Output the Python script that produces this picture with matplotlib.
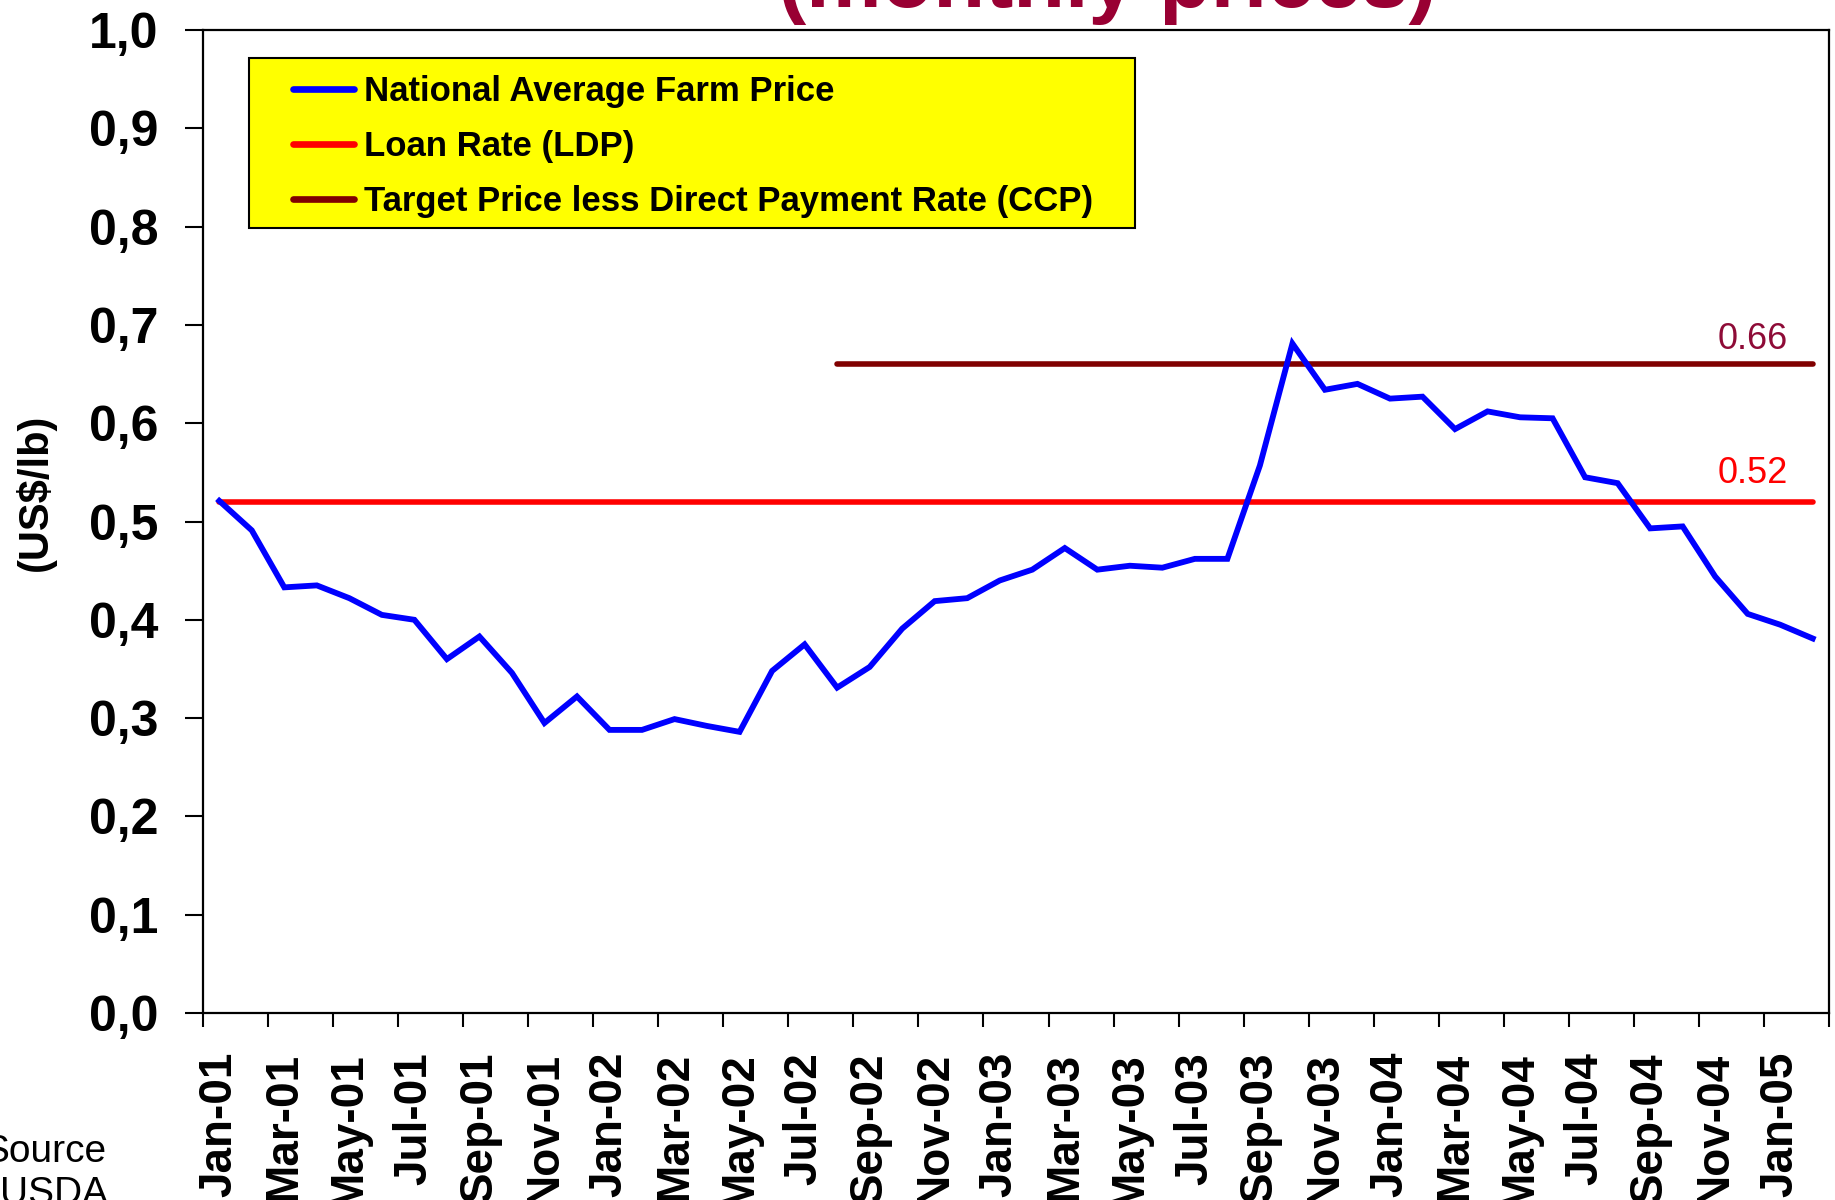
import matplotlib
matplotlib.use("Agg")
import matplotlib.pyplot as plt
from matplotlib.patches import Rectangle
from matplotlib.ticker import FixedLocator, FuncFormatter

plt.rcParams['font.family'] = ['Liberation Sans', 'DejaVu Sans']

months = ["Jan-01", "Feb-01", "Mar-01", "Apr-01", "May-01", "Jun-01", "Jul-01", "Aug-01", "Sep-01", "Oct-01",
          "Nov-01", "Dec-01", "Jan-02", "Feb-02", "Mar-02", "Apr-02", "May-02", "Jun-02", "Jul-02", "Aug-02",
          "Sep-02", "Oct-02", "Nov-02", "Dec-02", "Jan-03", "Feb-03", "Mar-03", "Apr-03", "May-03", "Jun-03",
          "Jul-03", "Aug-03", "Sep-03", "Oct-03", "Nov-03", "Dec-03", "Jan-04", "Feb-04", "Mar-04", "Apr-04",
          "May-04", "Jun-04", "Jul-04", "Aug-04", "Sep-04", "Oct-04", "Nov-04", "Dec-04", "Jan-05", "Feb-05"]

farm_price = [0.521, 0.491, 0.433, 0.435, 0.422, 0.405, 0.400, 0.360, 0.383, 0.346,
              0.295, 0.322, 0.288, 0.288, 0.299, 0.292, 0.286, 0.348, 0.375, 0.331,
              0.352, 0.391, 0.419, 0.422, 0.440, 0.451, 0.473, 0.451, 0.455, 0.453,
              0.462, 0.462, 0.557, 0.681, 0.634, 0.640, 0.625, 0.627, 0.594, 0.612,
              0.606, 0.605, 0.545, 0.539, 0.493, 0.495, 0.444, 0.406, 0.395, 0.381]

loan_rate = 0.52
ccp_rate = 0.66
ccp_start = "Aug-02"

legend_labels = ["National Average Farm Price", "Loan Rate (LDP)",
                 "Target Price less Direct Payment Rate (CCP)"]

W, H = 1835, 1200
fig = plt.figure(figsize=(W / 100, H / 100), dpi=100)
ax = fig.add_axes([203 / W, 1 - 1013 / H, (1829 - 203) / W, (1013 - 30) / H])

x = list(range(len(months)))
l1, = ax.plot(x, farm_price, color='#0000FF', lw=4.2, solid_joinstyle='miter', zorder=4)
l2, = ax.plot([x[0], x[-1]], [loan_rate, loan_rate], color='#FF0000', lw=4.0,
              solid_capstyle='round', zorder=3)
i0 = months.index(ccp_start)
l3, = ax.plot([x[i0], x[-1]], [ccp_rate, ccp_rate], color='#800000', lw=4.0,
              solid_capstyle='round', zorder=3)

ax.set_xlim(-0.5, len(months) - 0.5)
ax.set_ylim(0, 1.0)

# y axis
ax.set_yticks([i / 10 for i in range(11)])
ax.yaxis.set_major_formatter(FuncFormatter(lambda v, p: f"{v:.1f}".replace('.', ',')))
ax.tick_params(axis='y', direction='out', length=13, width=1.5, pad=19, labelsize=36)

# x axis: marks at category boundaries, labels at every second category
ax.xaxis.set_major_locator(FixedLocator([i - 0.5 for i in range(0, len(months) + 1, 2)]))
ax.xaxis.set_major_formatter(FuncFormatter(lambda v, p: ""))
ax.xaxis.set_minor_locator(FixedLocator(x[::2]))
ax.xaxis.set_minor_formatter(FuncFormatter(lambda v, p: months[int(round(v))]))
ax.tick_params(axis='x', which='major', direction='out', length=10, width=1.5)
ax.tick_params(axis='x', which='minor', length=0, pad=28, labelsize=33, labelrotation=90)

for lab in ax.get_xticklabels(minor=True) + ax.get_yticklabels():
    lab.set_fontweight('bold')

for s in ax.spines.values():
    s.set_linewidth(1.6)
    s.set_color('black')

# value annotations
ax.text(48.24, 0.6755, "0.66", color='#8E0B37', fontsize=26, ha='right', va='baseline')
ax.text(48.24, 0.539, "0.52", color='#FF0000', fontsize=26, ha='right', va='baseline')

# legend box
ax.add_patch(Rectangle((46 / 1626, (1013 - 228) / 983), (1135 - 249) / 1626, (228 - 58) / 983,
                       transform=ax.transAxes, facecolor='#FFFF00', edgecolor='black',
                       lw=1.5, zorder=5))
leg = ax.legend([l1, l2, l3], legend_labels, loc='upper left',
                bbox_to_anchor=((293 - 203) / 1626, (1013 - 75) / 983),
                frameon=False, borderpad=0, borderaxespad=0, handlelength=1.75,
                handletextpad=0.3, labelspacing=0.64, prop={'size': 25, 'weight': 'bold'})
leg.set_zorder(6)
for h in leg.get_lines():
    h.set_linewidth(4.8)
    h.set_solid_capstyle('round')

# y label
fig.text(35 / W, 1 - 492 / H, "(US$/lb)", rotation=90, ha='center', va='center',
         fontsize=30, fontweight='bold')

# partially visible title
fig.text(1107 / W, 1 - 7 / H, "(monthly prices)", ha='center', va='baseline',
         fontsize=61, fontweight='bold', color='#990033')

# source note
fig.text(106 / W, 1 - 1162 / H, "Source", ha='right', va='baseline', fontsize=28)
fig.text(108 / W, 1 - 1204 / H, "USDA", ha='right', va='baseline', fontsize=28)

fig.savefig("out.png", dpi=100)
